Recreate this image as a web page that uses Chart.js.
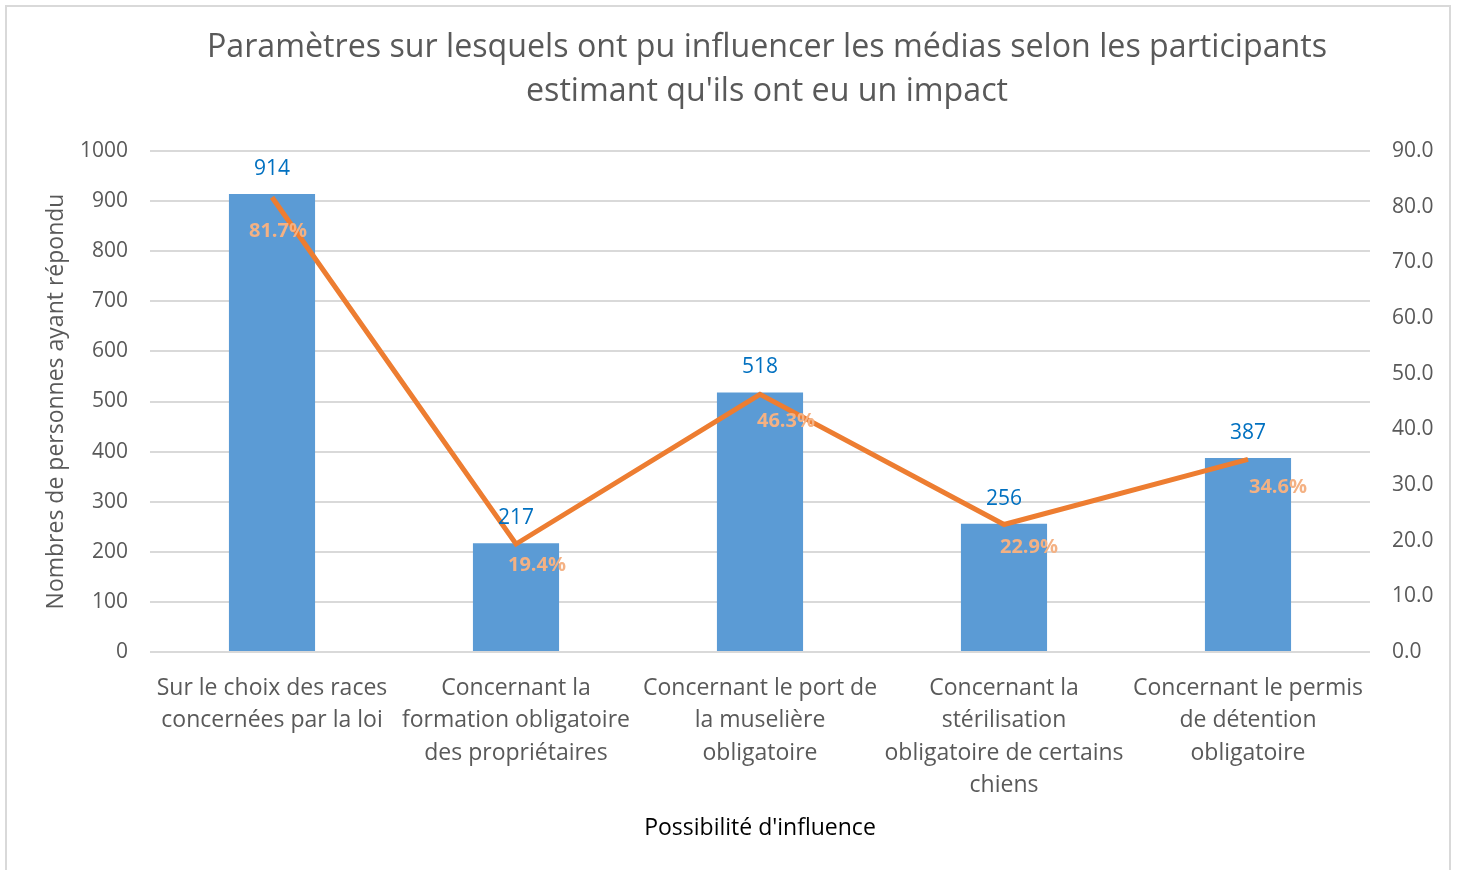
<!DOCTYPE html>
<html>
<head>
<meta charset="utf-8">
<script src="https://cdn.jsdelivr.net/npm/chart.js@4.4.1/dist/chart.umd.min.js"></script>
<style>
  html, body { margin: 0; padding: 0; background: #fff; }
  #wrap { position: relative; width: 1457px; height: 870px; overflow: hidden; }
  #frame { position: absolute; left: 5px; top: 5px; width: 1446px; height: 880px; border: 2px solid #D9D9D9; box-sizing: border-box; pointer-events: none; }
  canvas { position: absolute; left: 0; top: 0; }
</style>
</head>
<body>
<div id="wrap">
  <canvas id="c" width="1457" height="870"></canvas>
  <div id="frame"></div>
</div>
<script>
const titleLines = ["Paramètres sur lesquels ont pu influencer les médias selon les participants", "estimant qu'ils ont eu un impact"];
const categories = [
  ["Sur le choix des races", "concernées par la loi"],
  ["Concernant la", "formation obligatoire", "des propriétaires"],
  ["Concernant le port de", "la muselière", "obligatoire"],
  ["Concernant la", "stérilisation", "obligatoire de certains", "chiens"],
  ["Concernant le permis", "de détention", "obligatoire"]
];
const counts = [914, 217, 518, 256, 387];
const percents = [81.7, 19.4, 46.3, 22.9, 34.6];
const xTitle = "Possibilité d'influence";
const yTitle = "Nombres de personnes ayant répondu";

const FONT = "'Open Sans', 'Noto Sans', sans-serif";
const GREY = "#595959";

const labelPlugin = {
  id: 'labels',
  afterDatasetsDraw(chart) {
    const ctx = chart.ctx;
    ctx.save();
    const barMeta = chart.getDatasetMeta(0);
    ctx.font = "400 21px " + FONT;
    ctx.fillStyle = "#0070C0";
    ctx.textAlign = "center";
    ctx.textBaseline = "middle";
    barMeta.data.forEach((el, i) => {
      ctx.fillText(String(counts[i]), el.x, el.y - 25);
    });
    const lineMeta = chart.getDatasetMeta(1);
    const offs = [[6, 34], [21, 21], [26, 27], [25, 23], [30, 28]];
    ctx.font = "700 20px " + FONT;
    ctx.fillStyle = "#F4B183";
    lineMeta.data.forEach((el, i) => {
      ctx.fillText(percents[i].toFixed(1) + "%", el.x + offs[i][0], el.y + offs[i][1]);
    });
    ctx.restore();
  },
  afterDraw(chart) {
    const ctx = chart.ctx;
    ctx.save();
    ctx.font = "400 32.2px " + FONT;
    ctx.fillStyle = GREY;
    ctx.textAlign = "center";
    ctx.textBaseline = "middle";
    ctx.fillText(titleLines[0], 767, 48);
    ctx.fillText(titleLines[1], 767, 92);
    ctx.restore();
  }
};

new Chart(document.getElementById('c'), {
  data: {
    labels: categories,
    datasets: [
      {
        type: 'bar',
        data: counts,
        backgroundColor: '#5B9BD5',
        yAxisID: 'y',
        barPercentage: 0.353,
        categoryPercentage: 1,
        order: 1
      },
      {
        type: 'line',
        data: percents,
        borderColor: '#ED7D31',
        borderWidth: 5,
        pointRadius: 0,
        tension: 0,
        yAxisID: 'y1',
        order: 0
      }
    ]
  },
  options: {
    responsive: false,
    animation: false,
    devicePixelRatio: 1,
    layout: { padding: { top: 151, left: 0, right: 0, bottom: 0 } },
    plugins: { legend: { display: false }, tooltip: { enabled: false }, title: { display: false } },
    scales: {
      x: {
        grid: { display: false },
        border: { display: false },
        ticks: { color: GREY, font: { family: FONT, size: 23, lineHeight: 1.413 }, padding: 12, maxRotation: 0, autoSkip: false },
        title: { display: true, text: xTitle, color: '#000', font: { family: FONT, size: 23 }, padding: { top: 4, bottom: 28 } },
        afterFit(s) { s.height = 218; }
      },
      y: {
        position: 'left',
        min: 0, max: 1000,
        ticks: { stepSize: 100, color: GREY, font: { family: FONT, size: 21 }, padding: 22, callback: v => String(v) },
        grid: { color: '#D9D9D9', lineWidth: 2, drawTicks: false },
        border: { display: false },
        title: { display: true, text: yTitle, color: GREY, font: { family: FONT, size: 23 }, padding: { top: 43, bottom: 0 } },
        afterFit(s) { s.width = 150; }
      },
      y1: {
        position: 'right',
        min: 0, max: 90,
        ticks: { stepSize: 10, color: GREY, font: { family: FONT, size: 21 }, padding: 22, callback: v => Number(v).toFixed(1) },
        grid: { display: false, drawTicks: false },
        border: { display: false },
        afterFit(s) { s.width = 87; }
      }
    }
  },
  plugins: [labelPlugin]
});
</script>
</body>
</html>
